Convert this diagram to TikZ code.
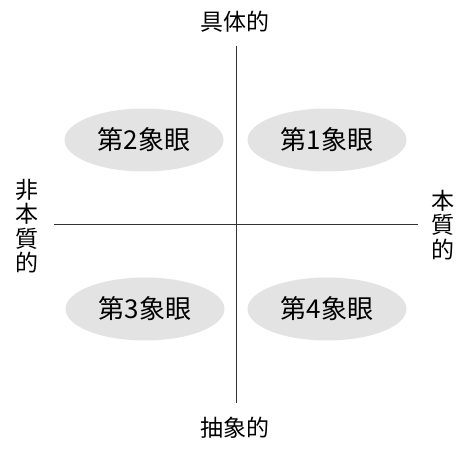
\documentclass[tikz,border=0pt]{standalone}
\usepackage{fontspec}
\usetikzlibrary{shapes.geometric}
\newfontfamily\cjk{Noto Sans CJK JP}
\begin{document}
\begin{tikzpicture}[x=1pt,y=-1pt,
  axis/.style={draw=black!80, line width=0.9pt},
  quad/.style={ellipse, fill=black!11, minimum width=159pt, minimum height=63pt, inner sep=0pt, font=\cjk\fontsize{26}{28}\selectfont},
  lab/.style={font=\cjk\fontsize{23}{25}\selectfont, inner sep=0pt},
  vlab/.style={font=\cjk\fontsize{23}{24.5}\selectfont, inner sep=0pt, align=center}]
\useasboundingbox (0,0) rectangle (467,452);
\coordinate (top) at (236,46);
\coordinate (bot) at (236,403);
\coordinate (lft) at (54,224);
\coordinate (rgt) at (418,224);
\draw[axis] (top) -- (bot);
\draw[axis] (lft) -- (rgt);
\node[quad] (q2) at (144,140) {第2象眼};
\node[quad] (q1) at (327,140) {第1象眼};
\node[quad] (q3) at (145,309) {第3象眼};
\node[quad] (q4) at (327,309) {第4象眼};
\node[lab] (tl) at (235,22) {具体的};
\node[lab] (bl) at (235,428) {抽象的};
\node[vlab] (ll) at (27,226) {非\\本\\質\\的};
\node[vlab] (rl) at (443,225) {本\\質\\的};
\end{tikzpicture}
\end{document}
